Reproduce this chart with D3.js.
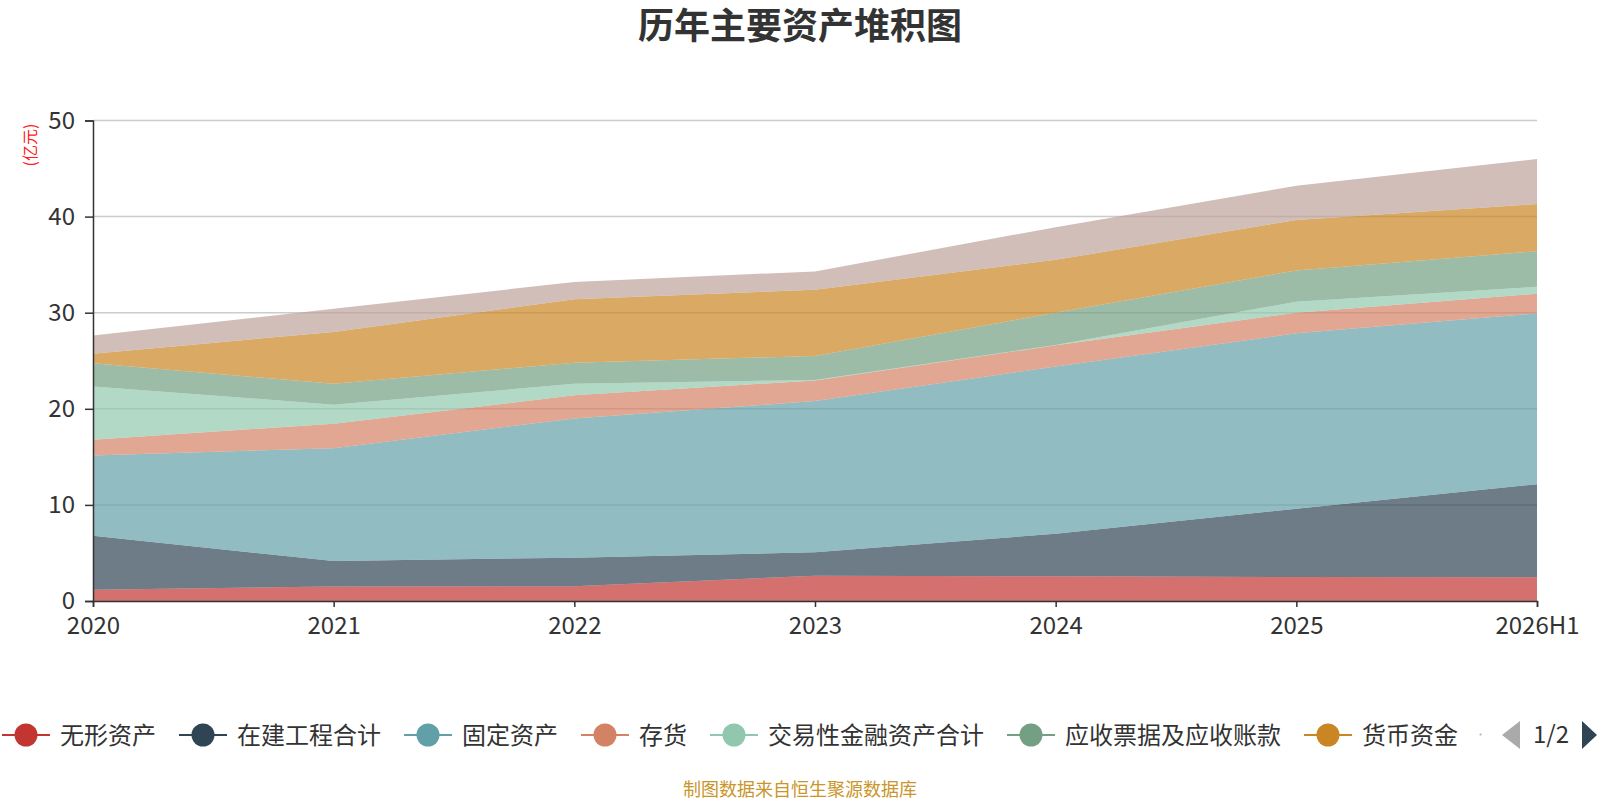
<html>
<head>
  <meta charset="utf-8">
  <script src="https://cdn.jsdelivr.net/npm/d3@7/dist/d3.min.js"></script>
</head>
<style>
  body { margin: 0; background: #fff; }
  text { font-family: "Noto Sans CJK SC", "Noto Sans", sans-serif; }
</style>
<body>
  <svg width="1600" height="800" id="chart"></svg>
  <script>
    // categories and series (亿元)
    var years = ['2020', '2021', '2022', '2023', '2024', '2025', '2026H1'];
    var seriesNames = ['无形资产', '在建工程合计', '固定资产', '存货', '交易性金融资产合计', '应收票据及应收账款', '货币资金', '其他资产'];
    var wuxing   = [1.17, 1.52, 1.53, 2.64, 2.57, 2.50, 2.47];
    var zaijian  = [5.63, 2.63, 2.98, 2.43, 4.43, 7.10, 9.68];
    var guding   = [8.34, 11.75, 14.49, 15.73, 17.40, 18.25, 17.78];
    var cunhuo   = [1.64, 2.55, 2.40, 2.15, 2.20, 2.15, 2.05];
    var jiaoyi   = [5.55, 1.98, 1.20, 0.05, 0.05, 1.15, 0.72];
    var yingshou = [2.40, 2.17, 2.20, 2.50, 3.35, 3.25, 3.70];
    var huobi    = [1.01, 5.40, 6.60, 6.90, 5.50, 5.25, 4.90];
    var qita     = [1.88, 2.40, 1.80, 1.90, 3.40, 3.55, 4.70];
    var yTicks = [0, 10, 20, 30, 40, 50];
    var colors = ['#c23531', '#2f4554', '#61a0a8', '#d48265', '#91c7ae', '#749f83', '#ca8622', '#bda29a'];

    var allSeries = [wuxing, zaijian, guding, cunhuo, jiaoyi, yingshou, huobi, qita];
    var rows = years.map(function (y, i) {
      var r = { year: y };
      seriesNames.forEach(function (n, k) { r[n] = allSeries[k][i]; });
      return r;
    });

    var svg = d3.select('#chart');
    var x = d3.scalePoint().domain(years).range([93, 1537]);
    var y = d3.scaleLinear().domain([0, 50]).range([601, 120.5]);

    // title
    svg.append('text')
      .attr('x', 800).attr('y', 39)
      .attr('text-anchor', 'middle')
      .attr('font-size', '36px')
      .attr('font-weight', 'bold')
      .attr('fill', '#333')
      .text('历年主要资产堆积图');

    // grid lines
    svg.append('g').selectAll('line')
      .data(yTicks.slice(1))
      .enter()
      .append('line')
      .attr('x1', 93).attr('x2', 1537)
      .attr('y1', function (d) { return y(d); })
      .attr('y2', function (d) { return y(d); })
      .attr('stroke', '#ccc')
      .attr('stroke-width', 1.5);

    // stacked areas
    var stack = d3.stack().keys(seriesNames);
    var layers = stack(rows);
    var area = d3.area()
      .x(function (d) { return x(d.data.year); })
      .y0(function (d) { return y(d[0]); })
      .y1(function (d) { return y(d[1]); });
    svg.append('g').selectAll('path')
      .data(layers)
      .enter()
      .append('path')
      .attr('d', area)
      .attr('fill', function (d, i) { return colors[i]; })
      .attr('fill-opacity', 0.7);

    // y axis
    var yAxis = svg.append('g')
      .attr('transform', 'translate(93,0)')
      .call(d3.axisLeft(y).tickValues(yTicks).tickSize(8).tickPadding(10));
    yAxis.select('.domain').attr('stroke', '#333').attr('stroke-width', 1.5);
    yAxis.selectAll('.tick line').attr('stroke', '#333').attr('stroke-width', 1.5);
    yAxis.selectAll('.tick text')
      .attr('font-size', '24px')
      .attr('fill', '#333')
      .attr('font-family', '"Noto Sans", sans-serif');

    // x axis
    var xAxis = svg.append('g')
      .attr('transform', 'translate(0,601)')
      .call(d3.axisBottom(x).tickSize(6).tickPadding(10));
    xAxis.select('.domain').attr('stroke', '#333').attr('stroke-width', 1.5);
    xAxis.selectAll('.tick line').attr('stroke', '#333').attr('stroke-width', 1.5);
    xAxis.selectAll('.tick text')
      .attr('font-size', '24px')
      .attr('fill', '#333')
      .attr('font-family', '"Noto Sans", sans-serif');

    // unit label
    svg.append('text')
      .attr('transform', 'translate(36,145) rotate(-90)')
      .attr('text-anchor', 'middle')
      .attr('font-size', '16px')
      .attr('fill', '#ff2020')
      .text('(亿元)');

    // legend (page 1 of 2)
    var legend = svg.append('g');
    var lx = 2;
    seriesNames.slice(0, 7).forEach(function (n, i) {
      var g = legend.append('g').attr('transform', 'translate(' + lx + ',735)');
      g.append('line')
        .attr('x1', 0).attr('x2', 48).attr('y1', 0).attr('y2', 0)
        .attr('stroke', colors[i]).attr('stroke-width', 2);
      g.append('circle')
        .attr('cx', 24).attr('cy', 0).attr('r', 11.5)
        .attr('fill', colors[i]);
      var t = g.append('text')
        .attr('x', 58).attr('y', 8.5)
        .attr('font-size', '24px')
        .attr('fill', '#333')
        .text(n);
      lx += 58 + t.node().getComputedTextLength() + 23;
    });
    legend.append('circle').attr('cx', 1480.5).attr('cy', 734.5).attr('r', 1).attr('fill', colors[7]);
    legend.append('path')
      .attr('d', 'M1520,721 L1502,735 L1520,749 Z')
      .attr('fill', '#aaa');
    legend.append('text')
      .attr('x', 1551).attr('y', 743)
      .attr('text-anchor', 'middle')
      .attr('font-size', '24px')
      .attr('fill', '#333')
      .attr('font-family', '"Noto Sans", sans-serif')
      .text('1/2');
    legend.append('path')
      .attr('d', 'M1582,721 L1597,735 L1582,749 Z')
      .attr('fill', '#2f4554');

    // source note
    svg.append('text')
      .attr('x', 800).attr('y', 796)
      .attr('text-anchor', 'middle')
      .attr('font-size', '18px')
      .attr('fill', '#c9962a')
      .text('制图数据来自恒生聚源数据库');
  </script>
</body>
</html>
